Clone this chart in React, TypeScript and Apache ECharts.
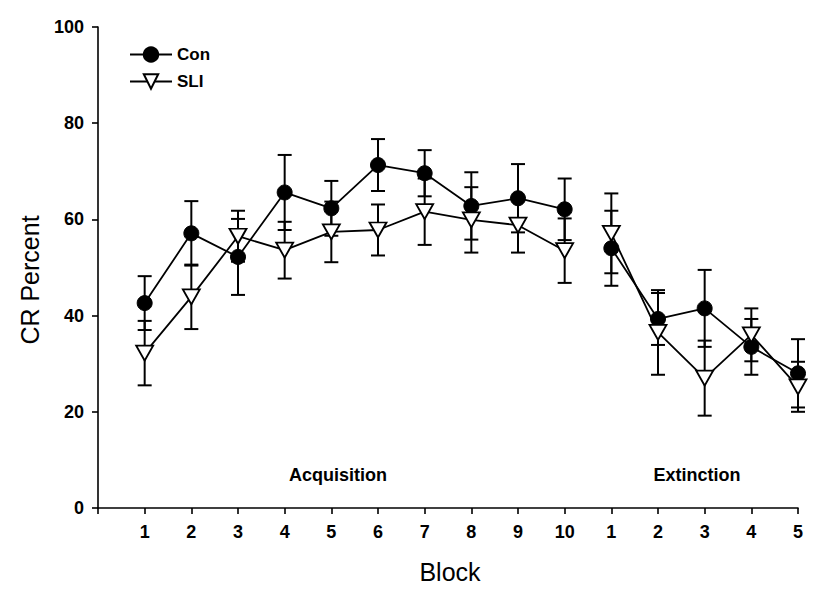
import React, { useEffect, useRef } from "react";
import * as echarts from "echarts";

// Block positions on the x axis (acquisition 1-10, extinction 1-5)
const blockX = [1, 2, 3, 4, 5, 6, 7, 8, 9, 10, 11, 12, 13, 14, 15];
const xTickLabels = ["", "1", "2", "3", "4", "5", "6", "7", "8", "9", "10", "1", "2", "3", "4", "5"];
const acqCount = 10;

const conMean = [42.6, 57.1, 52.2, 65.6, 62.3, 71.3, 69.6, 62.8, 64.4, 62.1, 54.0, 39.3, 41.5, 33.5, 28.0];
const conErr = [5.6, 6.7, 7.9, 7.8, 5.7, 5.4, 4.8, 7.0, 7.1, 6.4, 7.8, 5.4, 8.0, 5.8, 7.1];
const sliMean = [32.2, 43.9, 56.5, 53.6, 57.4, 57.8, 61.6, 59.9, 58.8, 53.5, 57.1, 36.5, 27.0, 36.0, 25.2];
const sliErr = [6.7, 6.7, 5.3, 5.9, 6.3, 5.3, 6.9, 6.8, 5.7, 6.7, 8.3, 8.8, 7.8, 5.5, 5.2];

const yTicks = [0, 20, 40, 60, 80, 100];
const seriesNames = ["Con", "SLI"];
const phaseNames = ["Acquisition", "Extinction"];
const xTitle = "Block";
const yTitle = "CR Percent";

const FONT = "'Liberation Sans', Arial, sans-serif";
const TRI = "path://M0,0 L20,0 L10,18 Z";

export default function App() {
  const ref = useRef<HTMLDivElement>(null);
  useEffect(() => {
    if (!ref.current) return;
    const chart = echarts.init(ref.current, null, { renderer: "svg" });

    const pts = (mean: number[], from: number, to: number) =>
      blockX.slice(from, to).map((x, i) => [x, mean[from + i]]);
    const errs = (mean: number[], err: number[]) =>
      blockX.map((x, i) => [x, mean[i] - err[i], mean[i] + err[i]]);

    const errSeries = (name: string, data: number[][]) => ({
      type: "custom",
      name: name + "-err",
      data,
      z: 1,
      encode: { x: 0, y: [1, 2] },
      renderItem: (params: any, api: any) => {
        const x = api.value(0);
        const lo = api.coord([x, api.value(1)]);
        const hi = api.coord([x, api.value(2)]);
        const hw = 7;
        const style = { stroke: "#000", lineWidth: 2, fill: null };
        return {
          type: "group",
          children: [
            { type: "line", shape: { x1: lo[0], y1: lo[1], x2: hi[0], y2: hi[1] }, style },
            { type: "line", shape: { x1: lo[0] - hw, y1: lo[1], x2: lo[0] + hw, y2: lo[1] }, style },
            { type: "line", shape: { x1: hi[0] - hw, y1: hi[1], x2: hi[0] + hw, y2: hi[1] }, style },
          ],
        };
      },
    });

    const conStyle = {
      type: "line",
      name: seriesNames[0],
      symbol: "circle",
      symbolSize: 15,
      itemStyle: { color: "#000", borderColor: "#000", borderWidth: 1 },
      lineStyle: { color: "#000", width: 1.8 },
      z: 3,
    };
    const sliStyle = {
      type: "line",
      name: seriesNames[1],
      symbol: TRI,
      symbolSize: [17, 15],
      itemStyle: { color: "#fff", borderColor: "#000", borderWidth: 1.8 },
      lineStyle: { color: "#000", width: 1.8 },
      z: 4,
    };

    chart.setOption({
      animation: false,
      backgroundColor: "#fff",
      grid: { left: 98, right: 28, top: 27, bottom: 92 },
      legend: {
        data: seriesNames,
        orient: "vertical",
        left: 129,
        top: 46,
        padding: 0,
        itemWidth: 42,
        itemHeight: 18,
        itemGap: 10,
        textStyle: { fontFamily: FONT, fontWeight: "bold", fontSize: 17, color: "#000" },
      },
      xAxis: {
        type: "value",
        min: 0,
        max: 15,
        interval: 1,
        axisLine: { lineStyle: { color: "#000", width: 1.6 } },
        axisTick: { show: true, length: 6, lineStyle: { color: "#000", width: 1.6 } },
        splitLine: { show: false },
        axisLabel: {
          fontFamily: FONT,
          fontWeight: "bold",
          fontSize: 18,
          color: "#000",
          margin: 15,
          formatter: (v: number) => xTickLabels[Math.round(v)] ?? "",
        },
      },
      yAxis: {
        type: "value",
        min: yTicks[0],
        max: yTicks[yTicks.length - 1],
        interval: 20,
        axisLine: { show: true, lineStyle: { color: "#000", width: 1.6 } },
        axisTick: { show: true, length: 6, lineStyle: { color: "#000", width: 1.6 } },
        splitLine: { show: false },
        axisLabel: { fontFamily: FONT, fontWeight: "bold", fontSize: 18, color: "#000", margin: 14 },
      },
      graphic: [
        {
          type: "text",
          x: 338,
          y: 475,
          style: { text: phaseNames[0], font: `bold 18px ${FONT}`, fill: "#000", align: "center", verticalAlign: "middle" },
        },
        {
          type: "text",
          x: 697,
          y: 475,
          style: { text: phaseNames[1], font: `bold 18px ${FONT}`, fill: "#000", align: "center", verticalAlign: "middle" },
        },
        {
          type: "text",
          x: 450,
          y: 572,
          style: { text: xTitle, font: `25px ${FONT}`, fill: "#000", align: "center", verticalAlign: "middle" },
        },
        {
          type: "text",
          x: 30,
          y: 280,
          rotation: Math.PI / 2,
          style: { text: yTitle, font: `25px ${FONT}`, fill: "#000", align: "center", verticalAlign: "middle" },
        },
      ],
      series: [
        errSeries("Con", errs(conMean, conErr)),
        errSeries("SLI", errs(sliMean, sliErr)),
        { ...conStyle, data: pts(conMean, 0, acqCount) },
        { ...conStyle, data: pts(conMean, acqCount, blockX.length) },
        { ...sliStyle, data: pts(sliMean, 0, acqCount) },
        { ...sliStyle, data: pts(sliMean, acqCount, blockX.length) },
      ],
    });
    return () => chart.dispose();
  }, []);
  return <div ref={ref} style={{ width: 826, height: 600, position: "absolute", left: 0, top: 0 }} />;
}
